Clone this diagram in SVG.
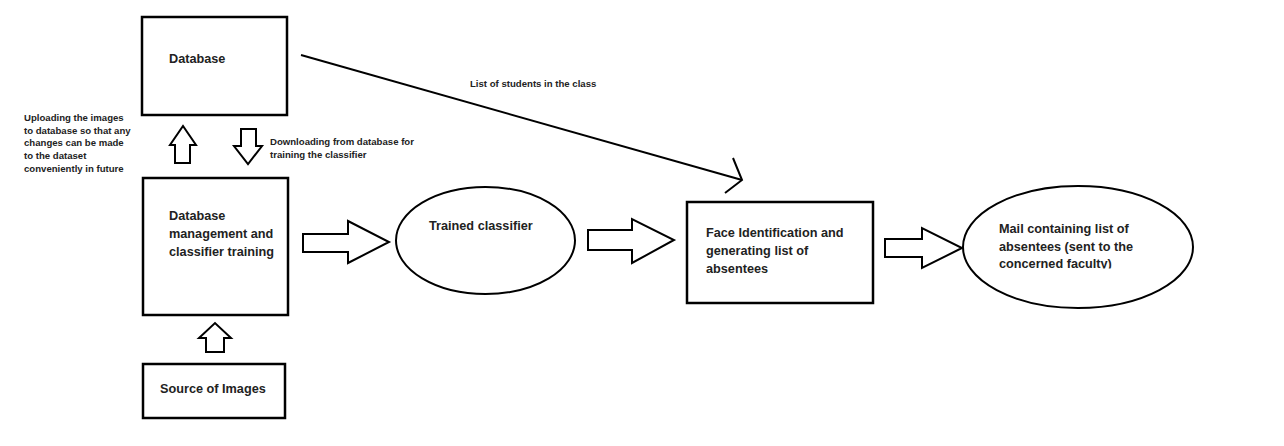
<svg xmlns="http://www.w3.org/2000/svg" width="1284" height="446" viewBox="0 0 1284 446">
<style>
.box{fill:#fff;stroke:#000;stroke-width:2.5}
.ell{fill:#fff;stroke:#000;stroke-width:2}
.blk{fill:#fff;stroke:#000;stroke-width:2;stroke-linejoin:miter}
.t{font-family:"Liberation Sans",Arial,sans-serif;font-weight:bold;font-size:12.7px;fill:#222}
.s{font-family:"Liberation Sans",Arial,sans-serif;font-weight:bold;font-size:9.6px;fill:#222}
.ln{fill:none;stroke:#000;stroke-width:2}
</style>
<defs>
<clipPath id="clipMail"><rect x="990" y="200" width="150" height="68.5"/></clipPath>
</defs>
<rect width="1284" height="446" fill="#fff"/>
<g id="database">
<rect class="box" x="142" y="17" width="145" height="98"/>
<text class="t" x="169" y="63">Database</text>
</g>
<g id="dbmgmt">
<rect class="box" x="143" y="178" width="145" height="137"/>
<text class="t" x="169" y="220">Database</text>
<text class="t" x="169" y="238">management and</text>
<text class="t" x="169" y="256">classifier training</text>
</g>
<g id="source">
<rect class="box" x="143" y="364" width="142" height="54"/>
<text class="t" x="160" y="393">Source of Images</text>
</g>
<g id="trained">
<ellipse class="ell" cx="485.5" cy="240.5" rx="89.5" ry="53.5"/>
<text class="t" x="429" y="230">Trained classifier</text>
</g>
<g id="face">
<rect class="box" x="687" y="202" width="186" height="101"/>
<text class="t" x="706" y="237">Face Identification and</text>
<text class="t" x="706" y="255">generating list of</text>
<text class="t" x="706" y="273">absentees</text>
</g>
<g id="mail">
<ellipse class="ell" cx="1078" cy="247" rx="115" ry="61"/>
<text class="t" x="999" y="233">Mail containing list of</text>
<text class="t" x="999" y="251">absentees (sent to the</text>
<text class="t" x="999" y="268" clip-path="url(#clipMail)">concerned faculty)</text>
</g>
<g id="connectors">
<polygon class="blk" points="175,163 175,145 170,145 183,126 196,145 190,145 190,163"/>
<polygon class="blk" points="241,129 256,129 256,146 262,146 248,164 234,146 241,146"/>
<polygon class="blk" points="206,352 206,338 199,338 215,323 231,338 224,338 224,352"/>
<polygon class="blk" points="303,234 348,234 348,221 389,242 348,263 348,252 303,252"/>
<polygon class="blk" points="588,230 632,230 632,219 674,240 632,263 632,250 588,250"/>
<polygon class="blk" points="885,239 922,239 922,228 962,248 922,268 922,257 885,257"/>
<line class="ln" x1="301" y1="55" x2="742" y2="180"/>
<polyline class="ln" points="733,158 742,180 725,193"/>
</g>
<g id="labels">
<text class="s" x="24" y="121">Uploading the images</text>
<text class="s" x="24" y="133.5">to database so that any</text>
<text class="s" x="24" y="146">changes can be made</text>
<text class="s" x="24" y="158.5">to the dataset</text>
<text class="s" x="24" y="171.5">conveniently in future</text>
<text class="s" x="270" y="145">Downloading from database for</text>
<text class="s" x="270" y="157.5">training the classifier</text>
<text class="s" x="470" y="87" font-size="9.2">List of students in the class</text>
</g>
</svg>
